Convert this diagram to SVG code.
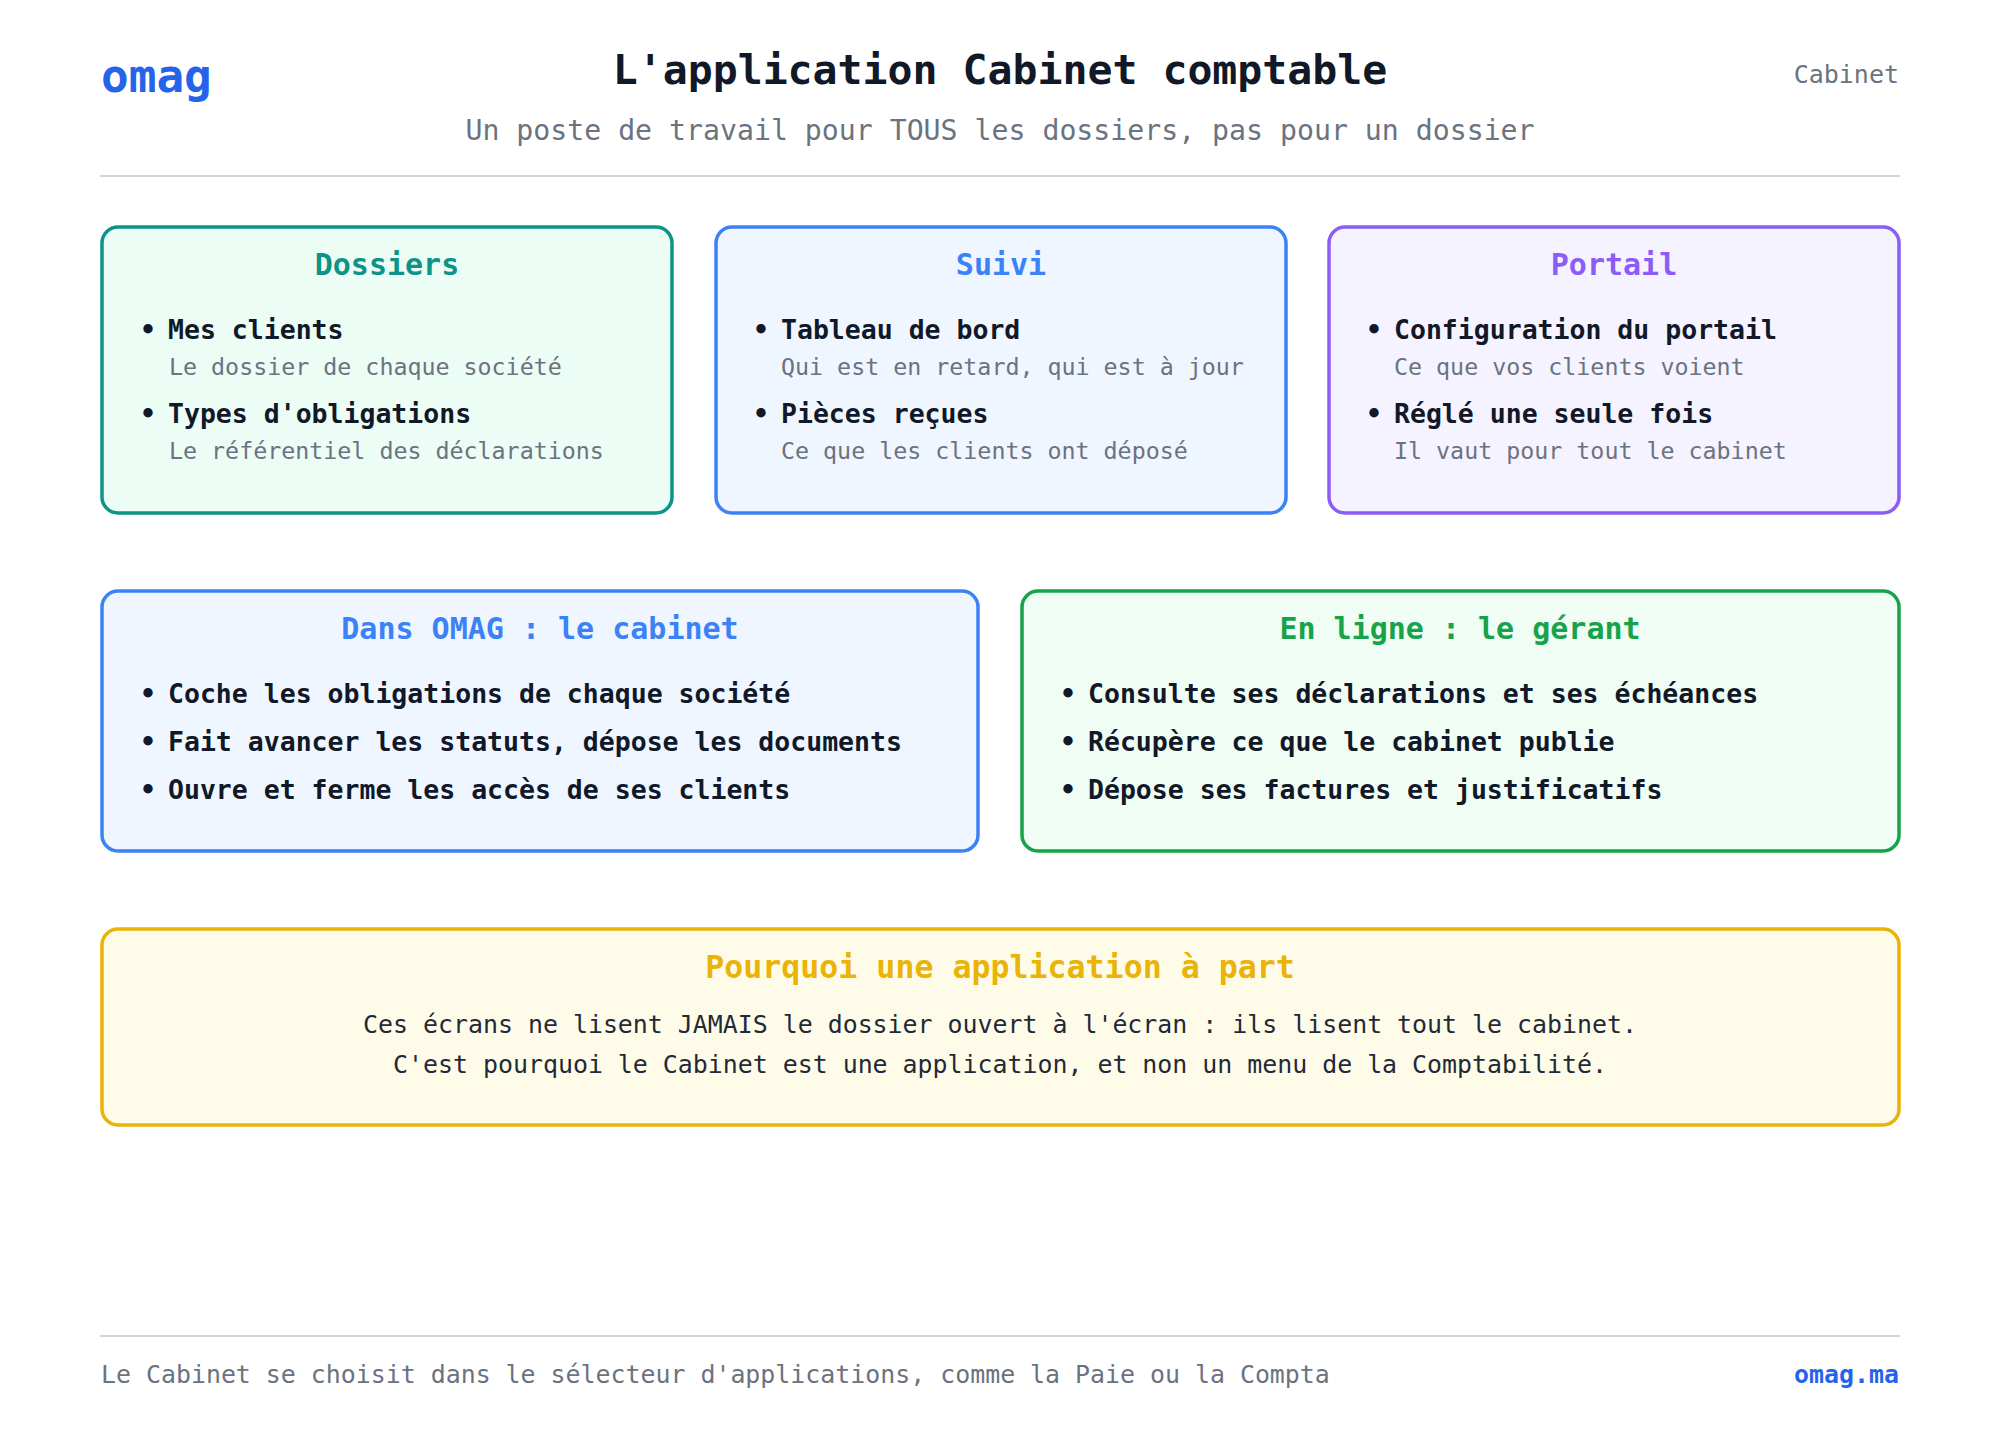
<svg xmlns="http://www.w3.org/2000/svg" width="2000" height="1440" viewBox="0 0 2000 1440">
<style>
text{font-family:"DejaVu Sans Mono","Liberation Mono",monospace}
.ct{font-size:30px;font-weight:bold;text-anchor:middle}
.it{font-size:26.5px;font-weight:bold;fill:#111827}
.sb{font-size:23.3px;fill:#6b7280}
.card{stroke-width:3.5}
</style>
<rect width="2000" height="1440" fill="#ffffff"/>
<g id="header">
<text x="101" y="92" font-size="46" font-weight="bold" fill="#2563eb">omag</text>
<text x="1000" y="84" font-size="41.5" font-weight="bold" fill="#111827" text-anchor="middle">L'application Cabinet comptable</text>
<text x="1899" y="83" font-size="25" fill="#6b7280" text-anchor="end">Cabinet</text>
<text x="1000" y="140" font-size="28.2" fill="#6b7280" text-anchor="middle">Un poste de travail pour TOUS les dossiers, pas pour un dossier</text>
<line x1="100" y1="176" x2="1900" y2="176" stroke="#d1d5db" stroke-width="2"/>
</g>
<g id="dossiers">
<rect class="card" x="102" y="227" width="570" height="286" rx="16" fill="#ecfdf5" stroke="#0d9488"/>
<text class="ct" x="387" y="275" fill="#0d9488">Dossiers</text>
<text class="it" x="140" y="339">•</text><text class="it" x="168" y="339">Mes clients</text>
<text class="sb" x="169" y="375">Le dossier de chaque société</text>
<text class="it" x="140" y="423">•</text><text class="it" x="168" y="423">Types d'obligations</text>
<text class="sb" x="169" y="459">Le référentiel des déclarations</text>
</g>
<g id="suivi">
<rect class="card" x="716" y="227" width="570" height="286" rx="16" fill="#eff6ff" stroke="#3b82f6"/>
<text class="ct" x="1001" y="275" fill="#3b82f6">Suivi</text>
<text class="it" x="753" y="339">•</text><text class="it" x="781" y="339">Tableau de bord</text>
<text class="sb" x="781" y="375">Qui est en retard, qui est à jour</text>
<text class="it" x="753" y="423">•</text><text class="it" x="781" y="423">Pièces reçues</text>
<text class="sb" x="781" y="459">Ce que les clients ont déposé</text>
</g>
<g id="portail">
<rect class="card" x="1329" y="227" width="570" height="286" rx="16" fill="#f5f3ff" stroke="#8b5cf6"/>
<text class="ct" x="1614" y="275" fill="#8b5cf6">Portail</text>
<text class="it" x="1366" y="339">•</text><text class="it" x="1394" y="339">Configuration du portail</text>
<text class="sb" x="1394" y="375">Ce que vos clients voient</text>
<text class="it" x="1366" y="423">•</text><text class="it" x="1394" y="423">Réglé une seule fois</text>
<text class="sb" x="1394" y="459">Il vaut pour tout le cabinet</text>
</g>
<g id="cabinet">
<rect class="card" x="102" y="591" width="876" height="260" rx="16" fill="#eff6ff" stroke="#3b82f6"/>
<text class="ct" x="540" y="639" fill="#3b82f6">Dans OMAG : le cabinet</text>
<text class="it" x="140" y="703">•</text><text class="it" x="168" y="703">Coche les obligations de chaque société</text>
<text class="it" x="140" y="751">•</text><text class="it" x="168" y="751">Fait avancer les statuts, dépose les documents</text>
<text class="it" x="140" y="799">•</text><text class="it" x="168" y="799">Ouvre et ferme les accès de ses clients</text>
</g>
<g id="gerant">
<rect class="card" x="1022" y="591" width="877" height="260" rx="16" fill="#f0fdf4" stroke="#16a34a"/>
<text class="ct" x="1460" y="639" fill="#16a34a">En ligne : le gérant</text>
<text class="it" x="1060" y="703">•</text><text class="it" x="1088" y="703">Consulte ses déclarations et ses échéances</text>
<text class="it" x="1060" y="751">•</text><text class="it" x="1088" y="751">Récupère ce que le cabinet publie</text>
<text class="it" x="1060" y="799">•</text><text class="it" x="1088" y="799">Dépose ses factures et justificatifs</text>
</g>
<g id="pourquoi">
<rect class="card" x="102" y="929" width="1797" height="196" rx="16" fill="#fefce8" stroke="#eab308"/>
<text class="ct" x="1000" y="978" fill="#eab308" style="font-size:31.6px">Pourquoi une application à part</text>
<text x="1000" y="1033" font-size="24.9" fill="#1f2937" text-anchor="middle">Ces écrans ne lisent JAMAIS le dossier ouvert à l'écran : ils lisent tout le cabinet.</text>
<text x="1000" y="1073" font-size="24.9" fill="#1f2937" text-anchor="middle">C'est pourquoi le Cabinet est une application, et non un menu de la Comptabilité.</text>
</g>
<g id="connectors"></g>
<g id="footer">
<line x1="100" y1="1336" x2="1900" y2="1336" stroke="#d1d5db" stroke-width="2"/>
<text x="101" y="1383" font-size="24.9" fill="#6b7280">Le Cabinet se choisit dans le sélecteur d'applications, comme la Paie ou la Compta</text>
<text x="1899" y="1383" font-size="24.9" font-weight="bold" fill="#2563eb" text-anchor="end">omag.ma</text>
</g>
</svg>
